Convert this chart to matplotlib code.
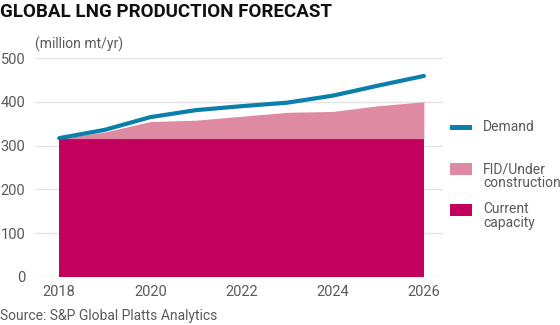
import matplotlib
matplotlib.use("Agg")
import matplotlib.pyplot as plt
from matplotlib.patches import Rectangle

plt.rcParams['font.family'] = ['Roboto', 'DejaVu Sans']

# data
years = [2018, 2019, 2020, 2021, 2022, 2023, 2024, 2025, 2026]
current = [316, 316, 316, 316, 316, 316, 316, 316, 316]
fid_top = [316, 331, 355, 358, 367, 376, 378, 391, 400]
demand = [317, 336, 365, 381, 390, 398, 414, 437, 459]
x_ticks = [2018, 2020, 2022, 2024, 2026]
y_ticks = [0, 100, 200, 300, 400, 500]

c_current = "#C4005F"
c_fid = "#DE8AA3"
c_demand = "#0B7FAB"
grey = "#5A5A5A"

fig = plt.figure(figsize=(5.6, 3.25), dpi=100)
ax = fig.add_axes([35 / 560, 1 - 277 / 325, (443 - 35) / 560, (277 - 58) / 325])

ax.fill_between(years, 0, current, color=c_current, lw=0, zorder=2)
ax.fill_between(years, current, fid_top, color=c_fid, lw=0, zorder=2)
ax.plot(years, demand, color=c_demand, lw=3, solid_capstyle='round', zorder=3)

ax.set_xlim(2017.47, 2026.42)
ax.set_ylim(0, 500)
ax.set_xticks(x_ticks)
ax.set_yticks(y_ticks)
ax.grid(axis='y', color="#E3E3E3", lw=1, zorder=0)
for s in ax.spines.values():
    s.set_visible(False)
ax.tick_params(length=0, labelsize=10.5, colors=grey, pad=6)
ax.tick_params(axis='y', pad=7)
for lab in ax.get_yticklabels():
    lab.set_horizontalalignment('right')

fig.text(0.0, 1 - 12 / 325, "GLOBAL LNG PRODUCTION FORECAST", fontsize=13.5,
         fontweight='bold', color="#111111", va='center', ha='left')
fig.text(35 / 560, 1 - 44 / 325, "(million mt/yr)", fontsize=10, color=grey,
         va='center', ha='left')
fig.text(0.0, 1 - 316 / 325, "Source: S&P Global Platts Analytics", fontsize=10,
         color=grey, va='center', ha='left')

# legend drawn by hand
def swatch(y0, h, color):
    fig.patches.append(Rectangle((450 / 560, 1 - (y0 + h) / 325), 22 / 560, h / 325,
                                 transform=fig.transFigure, color=color, lw=0))

swatch(125, 5, c_demand)
swatch(163, 12, c_fid)
swatch(204, 12, c_current)
fig.text(483 / 560, 1 - 127 / 325, "Demand", fontsize=10, color=grey, va='center')
fig.text(483 / 560, 1 - 176 / 325, "FID/Under\nconstruction", fontsize=10, color=grey,
         va='center', linespacing=0.95)
fig.text(483 / 560, 1 - 216 / 325, "Current\ncapacity", fontsize=10, color=grey,
         va='center', linespacing=0.95)

fig.savefig("out.png", dpi=100)
